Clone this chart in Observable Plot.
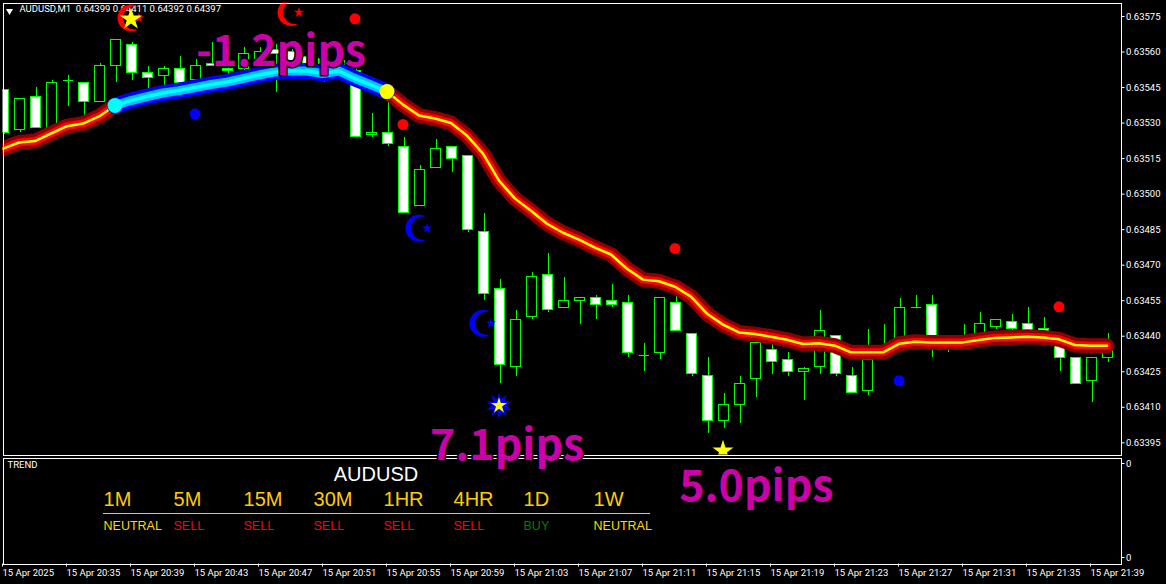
<!DOCTYPE html>
<html>
<head>
<meta charset="utf-8">
<style>
html,body{margin:0;padding:0;background:#000;overflow:hidden}
#chart svg{display:block}
</style>
<script src="https://cdn.jsdelivr.net/npm/d3@7"></script>
<script src="https://cdn.jsdelivr.net/npm/@observablehq/plot@0.6"></script>
</head>
<body>
<div id="chart"></div>
<script>
const open = [0.63544,0.63527,0.63541,0.63527,0.63548,0.63547,0.63539,0.63554,0.63563,0.63551,
0.63550,0.63553,0.63548,0.63555,0.63553,0.63553,0.63556,0.63561,0.63560,0.63558,
0.63557,0.63551,0.63552,0.63525,0.63526,0.63520,0.63495,0.63511,0.63520,0.63516,
0.63484,0.63460,0.63427,0.63448,0.63466,0.63452,0.63455,0.63456,0.63455,0.63454,
0.63432,0.63433,0.63454,0.63441,0.63423,0.63404,0.63411,0.63422,0.63434,0.63430,
0.63425,0.63427,0.63440,0.63423,0.63417,0.63433,0.63436,0.63452,0.63453,0.63436,
0.63437,0.63440,0.63444,0.63446,0.63445,0.63443,0.63436,0.63431,0.63421,0.63431];
const close = [0.63526,0.63540,0.63528,0.63547,0.63548,0.63539,0.63554,0.63565,0.63551,0.63549,
0.63553,0.63547,0.63554,0.63554,0.63552,0.63559,0.63560,0.63559,0.63556,0.63555,
0.63555,0.63556,0.63524,0.63526,0.63521,0.63492,0.63510,0.63519,0.63515,0.63485,
0.63458,0.63428,0.63447,0.63465,0.63451,0.63455,0.63456,0.63453,0.63453,0.63433,
0.63432,0.63456,0.63442,0.63424,0.63404,0.63411,0.63420,0.63437,0.63429,0.63425,
0.63426,0.63442,0.63424,0.63416,0.63430,0.63434,0.63452,0.63452,0.63439,0.63438,
0.63439,0.63445,0.63447,0.63443,0.63442,0.63438,0.63431,0.63420,0.63431,0.63436];
const high = [0.63544,0.63540,0.63545,0.63548,0.63550,0.63547,0.63555,0.63565,0.63564,0.63554,
0.63554,0.63558,0.63557,0.63564,0.63554,0.63562,0.63562,0.63563,0.63561,0.63560,
0.63560,0.63558,0.63554,0.63534,0.63541,0.63524,0.63512,0.63523,0.63520,0.63516,
0.63492,0.63464,0.63451,0.63467,0.63475,0.63465,0.63456,0.63457,0.63462,0.63457,
0.63437,0.63456,0.63457,0.63441,0.63431,0.63416,0.63423,0.63437,0.63437,0.63433,
0.63427,0.63451,0.63440,0.63427,0.63443,0.63445,0.63456,0.63457,0.63457,0.63438,
0.63445,0.63450,0.63447,0.63449,0.63452,0.63448,0.63438,0.63431,0.63431,0.63441];
const low = [0.63525,0.63526,0.63528,0.63526,0.63537,0.63533,0.63539,0.63547,0.63548,0.63543,
0.63545,0.63546,0.63547,0.63554,0.63549,0.63552,0.63555,0.63543,0.63551,0.63551,
0.63547,0.63550,0.63524,0.63524,0.63520,0.63492,0.63495,0.63511,0.63509,0.63484,
0.63455,0.63420,0.63423,0.63447,0.63450,0.63452,0.63445,0.63447,0.63452,0.63431,
0.63425,0.63430,0.63442,0.63423,0.63399,0.63401,0.63403,0.63414,0.63424,0.63423,
0.63413,0.63424,0.63423,0.63416,0.63415,0.63432,0.63436,0.63452,0.63431,0.63433,
0.63436,0.63440,0.63443,0.63441,0.63438,0.63436,0.63425,0.63420,0.63412,0.63429];
const movingAverage = [0.635192,0.635218,0.635224,0.635256,0.635287,0.635298,0.635328,0.635374,0.635395,0.635412,
0.635427,0.635437,0.635450,0.635463,0.635473,0.635488,0.635503,0.635516,0.635520,0.635520,
0.635509,0.635520,0.635488,0.635461,0.635433,0.635378,0.635332,0.635319,0.635300,0.635247,
0.635171,0.635057,0.634981,0.634930,0.634875,0.634837,0.634808,0.634774,0.634745,0.634685,
0.634639,0.634632,0.634609,0.634567,0.634495,0.634449,0.634416,0.634409,0.634398,0.634385,
0.634367,0.634370,0.634360,0.634332,0.634332,0.634332,0.634368,0.634377,0.634374,0.634374,
0.634374,0.634384,0.634393,0.634395,0.634398,0.634395,0.634387,0.634363,0.634360,0.634360];
const upTurnBar = 7, downTurnBar = 24;

const redDotBars = [22,25,42,66];
const redDotPrices = [0.63574,0.635294,0.63477,0.634524];
const blueDotBars = [12,56];
const blueDotPrices = [0.635339,0.634212];
const crescentBars = [8,18,26,30];
const crescentPrices = [0.635744,0.635767,0.634856,0.634455];
const crescentColors = ["#ff0000","#ff0000","#0000ff","#0000ff"];
const starBars = [8,31,45];
const starPrices = [0.635739,0.634107,0.633916];

const priceTicks = [0.63395,0.63410,0.63425,0.63440,0.63455,0.63470,0.63485,0.63500,0.63515,0.63530,0.63545,0.63560,0.63575];
const timeBars = [0,4,8,12,16,20,24,28,32,36,40,44,48,52,56,60,64,68];
const timeLabels = ["15 Apr 2025","15 Apr 20:35","15 Apr 20:39","15 Apr 20:43","15 Apr 20:47","15 Apr 20:51","15 Apr 20:55","15 Apr 20:59","15 Apr 21:03","15 Apr 21:07","15 Apr 21:11","15 Apr 21:15","15 Apr 21:19","15 Apr 21:23","15 Apr 21:27","15 Apr 21:31","15 Apr 21:35","15 Apr 21:39"];

const pipLabels = ["-1.2pips","7.1pips","5.0pips"];
const pipBars = [12.0,26.62,42.2];
const pipPrices = [0.635543,0.633878,0.633705];

const chartTitle = "AUDUSD,M1  0.64399 0.64411 0.64392 0.64397";
const timeframes = ["1M","5M","15M","30M","1HR","4HR","1D","1W"];
const signals = ["NEUTRAL","SELL","SELL","SELL","SELL","SELL","BUY","NEUTRAL"];
const signalColors = {NEUTRAL:"#ffd700",SELL:"#ff0000",BUY:"#008000"};

const candles = open.map((o,i)=>({i,open:o,close:close[i],high:high[i],low:low[i],top:Math.max(o,close[i]),bottom:Math.min(o,close[i])}));
const bodies = candles.filter(d=>d.open!==d.close);
const dojis = candles.filter(d=>d.open===d.close);
const maRows = movingAverage.map((ma,i)=>({i,ma}));
const maDown = [...maRows.slice(0,upTurnBar+1).map(d=>({...d,seg:"a"})),...maRows.slice(downTurnBar).map(d=>({...d,seg:"b"}))];
const maUp = maRows.slice(upTurnBar,downTurnBar+1);
const toRows = (bars,prices,extra)=>bars.map((i,k)=>({i,price:prices[k],color:extra?extra[k]:null}));

// crescent: circle with a bite taken on its right side, scaled by the dot radius
const crescent = {draw(ctx,size){
  const r=Math.sqrt(size/Math.PI), a=65*Math.PI/180, cx=.278*r, R=.856*r, b=81.4*Math.PI/180;
  ctx.moveTo(r*Math.cos(a),r*Math.sin(a));
  ctx.arc(0,0,r,a,2*Math.PI-a,false);
  ctx.arc(cx,0,R,-b,b-2*Math.PI,true);
  ctx.closePath();
}};

const base = {fontFamily:"Roboto, 'Liberation Sans', sans-serif",fontSize:"9.5px",color:"#fff",background:"transparent",overflow:"visible"};
const xScale = {type:"linear",domain:[0,69],range:[3.5,1107.5],axis:null};
const lime = "#00ff00";
const pipFont = {fontFamily:"'Noto Sans CJK JP','Noto Sans',sans-serif",fontSize:43,fontWeight:700};
const pointDx = -1;
const star = (bar,price,r,fill,rotate=0)=>Plot.dot([{i:bar,price}],{x:"i",y:"price",dx:pointDx,r,symbol:"star",rotate,fill,stroke:"none",clip:"frame"});

const main = Plot.plot({
  width:1166,height:455,marginLeft:2.5,marginRight:45.5,marginTop:2.5,marginBottom:.5,
  style:{...base,position:"relative",zIndex:2},
  x:xScale,
  y:{type:"linear",domain:[0.63575,0.63395],range:[16,442.3],axis:null},
  marks:[
    Plot.ruleX(candles,{x:"i",y1:"low",y2:"high",stroke:lime,shapeRendering:"crispEdges",clip:"frame"}),
    Plot.ruleY(dojis,{y:"open",x1:d=>d.i-.3125,x2:d=>d.i+.3125,stroke:lime,shapeRendering:"crispEdges"}),
    Plot.rect(bodies,{x1:d=>d.i-.3125,x2:d=>d.i+.3125,y1:"top",y2:"bottom",stroke:lime,fill:d=>d.close<d.open?"#fff":"#000",shapeRendering:"crispEdges",clip:"frame"}),
    Plot.text([chartTitle],{frameAnchor:"top-left",dx:16.5,dy:2.5,fill:"#fff",fontSize:9.5,fontFamily:"Roboto, sans-serif"}),
    Plot.dot([chartTitle],{frameAnchor:"top-left",dx:6.5,dy:8,symbol:"triangle",r:2.6,rotate:180,fill:"#fff",stroke:"none"}),
    ...[["#8b0000",15],["#ff0000",8],["#ffff00",2.5]].map(([c,w])=>Plot.line(maDown,{x:"i",y:"ma",z:"seg",dx:pointDx,stroke:c,strokeWidth:w,curve:"linear",clip:"frame"})),
    ...[["#0000ff",16],["#00bfff",9],["#00ffff",3.5]].map(([c,w])=>Plot.line(maUp,{x:"i",y:"ma",dx:pointDx,stroke:c,strokeWidth:w,curve:"linear",clip:"frame"})),
    Plot.dot([maRows[upTurnBar]],{x:"i",y:"ma",dx:pointDx,r:7.5,fill:"#00ffff",stroke:"none"}),
    Plot.dot([maRows[downTurnBar]],{x:"i",y:"ma",dx:pointDx,r:7.5,fill:"#ffff00",stroke:"none"}),
    Plot.dot(toRows(redDotBars,redDotPrices),{x:"i",y:"price",dx:pointDx,r:5.5,fill:"#ff0000",stroke:"none"}),
    Plot.dot(toRows(blueDotBars,blueDotPrices),{x:"i",y:"price",dx:pointDx,r:5.5,fill:"#0000ff",stroke:"none"}),
    Plot.dot(toRows(crescentBars,crescentPrices,crescentColors),{x:"i",y:"price",dx:pointDx,r:13.5,symbol:crescent,fill:"color",stroke:"none",clip:"frame"}),
    Plot.dot(toRows(crescentBars,crescentPrices,crescentColors),{x:"i",y:"price",dx:8+pointDx,r:3.2,symbol:"star",fill:"color",stroke:"none",clip:"frame"}),
    star(starBars[1],starPrices[1],7.8,"#0000ff",0),
    star(starBars[1],starPrices[1],7.8,"#0000ff",180),
    star(starBars[0],starPrices[0],7,"#ffff00"),
    star(starBars[1],starPrices[1],5,"#ffff00"),
    star(starBars[2],starPrices[2],6.6,"#ffff00"),
    Plot.frame({stroke:"#fff",shapeRendering:"crispEdges"}),
    Plot.axisY({anchor:"right",ticks:priceTicks,tickFormat:d3.format(".5f"),tickSize:3,tickPadding:2,label:null,color:"#fff"}),
    Plot.text(pipLabels,{x:(d,k)=>pipBars[k],y:(d,k)=>pipPrices[k],text:d=>d,textAnchor:"start",lineAnchor:"bottom",fill:"#cc00a8",stroke:"#000",strokeWidth:3,...pipFont})
  ]
});

const lowerRows = {title:.117,header:.383,rule:.537,signal:.66};
const colX = j => 6.22 + 4.375*j;
const arial = "'Liberation Sans',Arial,sans-serif";
const lower = Plot.plot({
  width:1166,height:129,marginLeft:2.5,marginRight:45.5,marginTop:2.5,marginBottom:20.5,
  style:{...base,marginTop:0},
  x:xScale,
  y:{type:"linear",domain:[0,1],range:[8,102],axis:null},
  marks:[
    Plot.frame({stroke:"#fff",shapeRendering:"crispEdges"}),
    Plot.text(["TREND"],{frameAnchor:"top-left",dx:4.5,dy:3,fill:"#fff",fontSize:9.5,fontFamily:"Roboto, sans-serif"}),
    Plot.text(["AUDUSD"],{x:23.25,y:lowerRows.title,text:d=>d,fill:"#fff",fontSize:20,fontFamily:arial}),
    Plot.text(timeframes,{x:(d,j)=>colX(j),y:lowerRows.header,text:d=>d,textAnchor:"start",fill:"#ffcc00",fontSize:20,fontFamily:arial}),
    Plot.ruleY([lowerRows.rule],{x1:colX(0),x2:40.4,stroke:"#ffcc00",shapeRendering:"crispEdges"}),
    Plot.text(signals,{x:(d,j)=>colX(j),y:lowerRows.signal,text:d=>d,textAnchor:"start",fill:d=>signalColors[d],fontSize:12.5,fontFamily:arial}),
    Plot.axisY({anchor:"right",ticks:[0,1],tickFormat:()=>"0",tickSize:3,tickPadding:2,label:null,color:"#fff"}),
    Plot.axisX({anchor:"bottom",ticks:timeBars,tickFormat:d=>timeLabels[timeBars.indexOf(d)],textAnchor:"start",tickSize:3,tickPadding:2,label:null,color:"#fff",dx:-1.5})
  ]
});

document.getElementById("chart").append(main,lower);
</script>
</body>
</html>
